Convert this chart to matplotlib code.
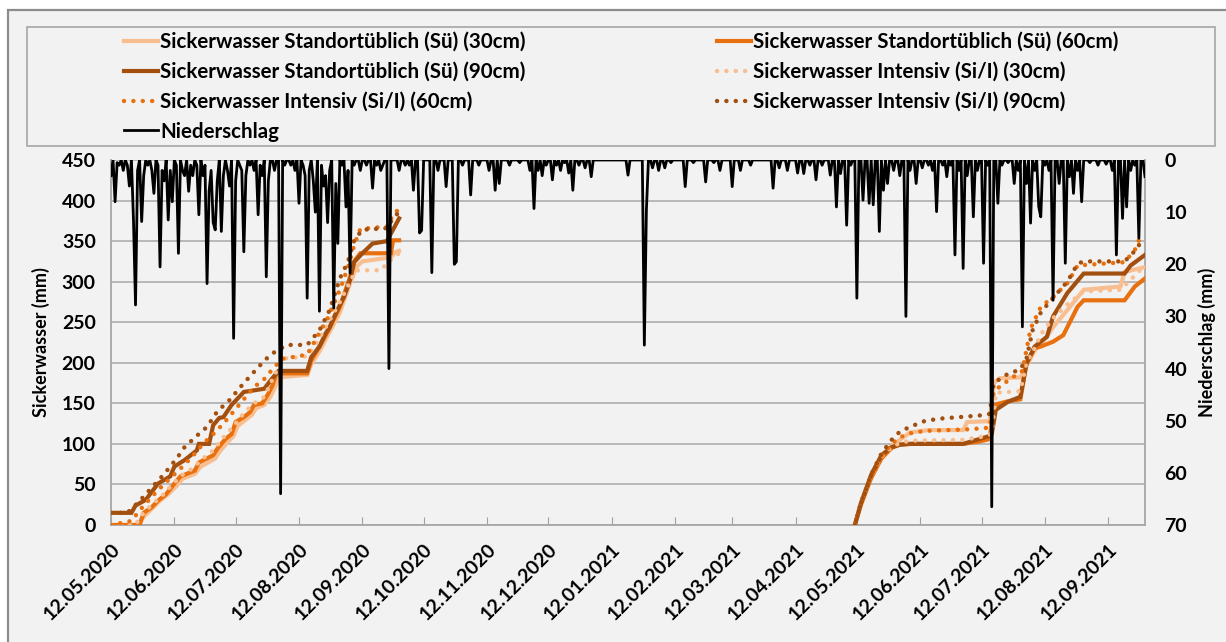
import numpy as np
import pandas as pd
import matplotlib
matplotlib.use("Agg")
import matplotlib.pyplot as plt
from matplotlib.patches import Rectangle

plt.rcParams['font.family'] = ['Lato', 'DejaVu Sans']

start = pd.Timestamp('2020-05-12')
n_days = 507  # 12.05.2020 .. 30.09.2021

# Sickerwasser (mm, kumuliert) - Tag seit 12.05.2020 / Wert; nan = Lücke
su30_day = [0, 13, 16, 20, 24, 28, 32, 35, 41, 44, 51, 53, 57, 60, 62, 66, 69, 71, 75, 78, 80, 82, 96, 98, 102, 107,
            112, 117, 120, 123, 137, 139, 141, 200,
            364, 367, 372, 377, 382, 386, 391, 400, 417, 419, 430, 432, 435, 445, 448, 452, 458, 461, 468, 476, 494,
            496, 506]
su30_val = [0, 0, 10, 20, 30, 38, 48, 57, 63, 72, 82, 90, 102, 110, 122, 130, 136, 144, 148, 158, 168, 182, 185, 198,
            214, 238, 262, 298, 318, 325, 330, 336, 338, np.nan,
            0, 27, 60, 84, 97, 105, 114, 117, 117, 127, 128, 175, 181, 182, 196, 215, 232, 244, 265, 290, 294, 312, 318]

su60_day = [0, 14, 16, 20, 23, 27, 31, 34, 41, 43, 50, 52, 56, 59, 61, 65, 68, 70, 74, 77, 79, 81, 96, 98, 102, 107,
            112, 117, 119, 122, 137, 138, 141, 200,
            364, 367, 372, 377, 382, 386, 391, 417, 425, 430, 432, 438, 445, 448, 452, 455, 461, 466, 473, 476, 496,
            501, 506]
su60_val = [0, 0, 15, 22, 30, 38, 51, 60, 67, 77, 86, 94, 106, 112, 127, 133, 139, 148, 150, 162, 172, 187, 187, 203,
            220, 243, 269, 306, 325, 335, 335, 351, 351, np.nan,
            0, 25, 58, 82, 95, 99, 100, 100, 103, 106, 148, 152, 155, 199, 218, 220, 226, 234, 269, 277, 277, 294, 304]

su90_day = [0, 10, 12, 17, 20, 23, 29, 31, 36, 38, 42, 43, 48, 50, 53, 55, 59, 62, 65, 75, 78, 82, 96, 98, 102, 105,
            107, 110, 114, 117, 119, 123, 128, 135, 138, 141, 200,
            364, 367, 372, 377, 382, 386, 391, 417, 429, 431, 433, 439, 445, 448, 452, 458, 461, 468, 476, 496, 499,
            506]
su90_val = [15, 15, 24, 31, 41, 51, 60, 72, 80, 84, 92, 100, 100, 123, 132, 133, 148, 156, 164, 168, 178, 190, 190,
            207, 220, 236, 244, 261, 281, 302, 324, 335, 347, 350, 364, 378, np.nan,
            0, 27, 62, 86, 96, 99, 100, 100, 109, 112, 142, 152, 158, 199, 220, 232, 257, 286, 310, 310, 320, 333]

si30_day = [0, 12, 15, 20, 25, 30, 35, 40, 45, 50, 55, 60, 65, 70, 75, 80, 84, 96, 100, 106, 112, 117, 120, 132, 136,
            141, 200,
            364, 367, 372, 377, 382, 386, 391, 417, 429, 431, 433, 445, 448, 452, 455, 461, 468, 476, 494, 500, 506]
si30_val = [0, 0, 12, 25, 36, 50, 62, 70, 82, 92, 108, 122, 138, 150, 158, 185, 205, 208, 222, 248, 275, 300, 314, 314,
            325, 335, np.nan,
            0, 27, 60, 84, 96, 101, 104, 105, 110, 113, 163, 165, 200, 218, 235, 255, 272, 288, 290, 305, 320]

si60_day = [0, 10, 14, 20, 25, 30, 35, 40, 45, 50, 55, 60, 65, 70, 75, 80, 84, 96, 100, 106, 112, 116, 119, 122, 135,
            138, 141, 200,
            364, 367, 372, 377, 382, 386, 391, 398, 420, 430, 432, 440, 446, 450, 455, 461, 468, 473, 496, 501, 503,
            506]
si60_val = [0, 5, 18, 35, 48, 60, 72, 85, 100, 112, 125, 140, 155, 170, 180, 195, 205, 210, 228, 255, 290, 318, 345,
            365, 368, 382, 390, np.nan,
            0, 27, 60, 85, 100, 108, 113, 116, 118, 120, 165, 180, 190, 242, 269, 281, 298, 320, 324, 339, 351, 352]

si90_day = [0, 8, 11, 16, 21, 25, 29, 33, 36, 42, 47, 52, 58, 65, 73, 78, 86, 96, 102, 107, 112, 116, 119, 123, 135,
            138, 141, 200,
            364, 367, 372, 377, 382, 386, 391, 398, 405, 415, 425, 430, 432, 438, 445, 448, 451, 455, 461, 468, 473,
            476, 496, 500, 503, 506]
si90_val = [15, 15, 22, 35, 49, 60, 72, 85, 96, 110, 121, 140, 154, 175, 197, 210, 222, 222, 240, 265, 304, 325, 351,
            364, 366, 378, 386, np.nan,
            0, 27, 62, 88, 105, 115, 121, 128, 131, 133, 135, 137, 175, 185, 192, 205, 240, 262, 280, 300, 322, 325,
            325, 335, 345, 348]

# Niederschlag (mm/Tag): (Tag seit 12.05.2020, mm), übrige Tage 0
rain_events = [
    (0, 3), (2, 8), (3, 0.5), (4, 1), (6, 2), (8, 1), (9, 5), (11, 11.5), (12, 27.8), (13, 2), (15, 11.8), (16, 3),
    (18, 1), (20, 2), (21, 6.4), (23, 1), (24, 20.5), (25, 2), (26, 4), (28, 11.5), (29, 2), (30, 8), (32, 1),
    (33, 17.9), (35, 2), (36, 3), (38, 6), (39, 1), (40, 3), (42, 1), (43, 10.5), (45, 3), (46, 1), (47, 23.7),
    (48, 6), (49, 2), (50, 12), (51, 13.4), (52, 4), (54, 13.7), (55, 3), (57, 2), (58, 5), (60, 34.2), (61, 4),
    (63, 1), (64, 2), (65, 17.6), (66, 3), (68, 1), (70, 2), (72, 10.5), (73, 1), (74, 3), (76, 22.4), (77, 4),
    (80, 2), (83, 64), (85, 1), (88, 1), (90, 2), (92, 8.3), (94, 1), (95, 3), (96, 26.5), (97, 2), (99, 4),
    (100, 10), (102, 29), (103, 1), (104, 5), (105, 3), (106, 12), (107, 2), (109, 28.4), (110, 4.5), (111, 16),
    (113, 1), (115, 9), (116, 2), (117, 21.7), (119, 1), (122, 2), (125, 1), (128, 5.4), (130, 1), (132, 2),
    (133, 1), (136, 40), (141, 2), (144, 1), (146, 1), (148, 5.8), (151, 14), (152, 13.5), (157, 21.6), (160, 2),
    (164, 5.1), (168, 20), (169, 19.5), (172, 1), (176, 6.7), (180, 1), (185, 2), (188, 5.8), (190, 4.5), (195, 1),
    (200, 0.5), (205, 2), (207, 9.3), (209, 2), (211, 3), (213, 1), (216, 3.8), (218, 1), (220, 2), (222, 0.5),
    (224, 2.5), (226, 5.8), (229, 1), (232, 1.5), (235, 3.2), (253, 2.9), (261, 35.5), (262, 9.6), (265, 1.5),
    (268, 2), (271, 1.5), (274, 0.5), (281, 5.1), (285, 0.5), (291, 4.2), (295, 0.5), (298, 2), (304, 5.1),
    (308, 2), (313, 1), (324, 5.4), (327, 1.5), (331, 2), (336, 2.5),
    (339, 2.6), (342, 1), (345, 3.8), (348, 1), (352, 2.9), (355, 9), (357, 2.6), (360, 12.5), (362, 1),
    (365, 26.5), (368, 7.7), (371, 8.3), (373, 8.6), (376, 13.7), (378, 5.8), (380, 4.5), (383, 2), (386, 3),
    (389, 30), (391, 2), (394, 4.5), (397, 1.5), (400, 1), (402, 2), (404, 9.9), (407, 1), (409, 3.2), (411, 1),
    (413, 18.2), (415, 2), (417, 20.8), (419, 3), (422, 10.9), (424, 2), (427, 19.8), (429, 1), (431, 66.5),
    (434, 8.3), (436, 1), (439, 0.5), (442, 4.5), (444, 2), (446, 32), (448, 4.5), (450, 12.1), (452, 2), (454, 9),
    (455, 10.9), (457, 1), (459, 2), (461, 26.9), (464, 4.5), (467, 19.8), (469, 3.2), (471, 6.4), (473, 2),
    (475, 8), (479, 0.5), (483, 1), (487, 0.8), (490, 2), (492, 18.2), (495, 11.2), (497, 9), (499, 2), (501, 1),
    (503, 15), (506, 3.2),
]

days = pd.date_range(start, periods=n_days, freq='D')
rain = np.zeros(n_days)
for d, mm in rain_events:
    rain[d] = mm

series = [
    ("Sickerwasser Standortüblich (Sü) (30cm)", su30_day, su30_val, '#f9be90', '-'),
    ("Sickerwasser Standortüblich (Sü) (60cm)", su60_day, su60_val, '#e8700e', '-'),
    ("Sickerwasser Standortüblich (Sü) (90cm)", su90_day, su90_val, '#a24f0f', '-'),
    ("Sickerwasser Intensiv (Si/I) (30cm)", si30_day, si30_val, '#f9be90', ':'),
    ("Sickerwasser Intensiv (Si/I) (60cm)", si60_day, si60_val, '#e8700e', ':'),
    ("Sickerwasser Intensiv (Si/I) (90cm)", si90_day, si90_val, '#a24f0f', ':'),
]

fig = plt.figure(figsize=(12.26, 6.42), dpi=100)
fig.patch.set_facecolor('white')
fig.patches.append(Rectangle((8 / 1226, -0.02), 1.0, 1 - 10 / 642 + 0.02, transform=fig.transFigure,
                             facecolor='#f2f2f2', edgecolor='#8c8c8c', lw=1.6, zorder=-10))

ax = fig.add_axes([111 / 1226, 1 - 525 / 642, (1145 - 111) / 1226, (525 - 160) / 642])
ax.set_facecolor('none')

handles = {}
for name, d, v, col, ls in series:
    x = start + pd.to_timedelta(d, unit='D')
    if ls == '-':
        ln, = ax.plot(x, v, color=col, lw=3.0, solid_joinstyle='miter', zorder=3)
    else:
        ln, = ax.plot(x, v, color=col, lw=3.2, linestyle=(0, (0.01, 2.1)), dash_capstyle='round', zorder=3)
    handles[name] = ln

ax.set_ylim(0, 450)
ax.set_yticks(range(0, 451, 50))
ax.set_xlim(start, start + pd.Timedelta(days=n_days - 1))
ticks = pd.date_range('2020-05-12', '2021-09-12', freq=pd.DateOffset(months=1))
ax.set_xticks(ticks)
ax.set_xticklabels([t.strftime('%d.%m.%Y') for t in ticks], rotation=45, ha='right',
                   rotation_mode='anchor', fontsize=14, fontweight='bold')
ax.grid(axis='y', color='#b3b3b3', lw=1.3)
ax.set_axisbelow(True)
ax.tick_params(axis='x', direction='in', length=6, color='#a0a0a0', pad=11)
ax.tick_params(axis='y', length=0, pad=11, labelsize=14)
for lab in ax.get_yticklabels():
    lab.set_fontweight('bold')
for s in ['left', 'bottom', 'right']:
    ax.spines[s].set_color('#a6a6a6')
    ax.spines[s].set_linewidth(1.3)
ax.spines['top'].set_visible(False)
ax.set_ylabel('Sickerwasser (mm)', fontsize=13, fontweight='bold', labelpad=8)

ax2 = ax.twinx()
ln_rain, = ax2.plot(days, rain, color='black', lw=2.0, zorder=5)
ax2.set_ylim(70, 0)
ax2.set_yticks(range(0, 71, 10))
ax2.tick_params(axis='y', length=0, pad=14, labelsize=14)
for lab in ax2.get_yticklabels():
    lab.set_fontweight('bold')
for s in ['left', 'bottom', 'right', 'top']:
    ax2.spines[s].set_visible(False)
ax2.set_ylabel('Niederschlag (mm)', fontsize=13, fontweight='bold', labelpad=8)

# legend, row-wise like Excel (matplotlib fills columns first)
order = ["Sickerwasser Standortüblich (Sü) (30cm)", "Sickerwasser Standortüblich (Sü) (90cm)",
         "Sickerwasser Intensiv (Si/I) (60cm)", "Niederschlag",
         "Sickerwasser Standortüblich (Sü) (60cm)", "Sickerwasser Intensiv (Si/I) (30cm)",
         "Sickerwasser Intensiv (Si/I) (90cm)"]
handles["Niederschlag"] = ln_rain
fig.legend([handles[k] for k in order], order, loc='upper left', bbox_to_anchor=(124 / 1226, 1 - 32 / 642),
           ncol=2, frameon=False, borderpad=0, borderaxespad=0, handlelength=1.65, handletextpad=0.1,
           columnspacing=9.3, labelspacing=0.48, prop={'size': 14.8, 'weight': 'bold'})
fig.patches.append(Rectangle((27 / 1226, 1 - 146 / 642), (1215 - 27) / 1226, (146 - 27) / 642,
                             transform=fig.transFigure, fill=False, edgecolor='#a6a6a6', lw=1.2))

fig.savefig('out.png', dpi=100, facecolor=fig.get_facecolor())
